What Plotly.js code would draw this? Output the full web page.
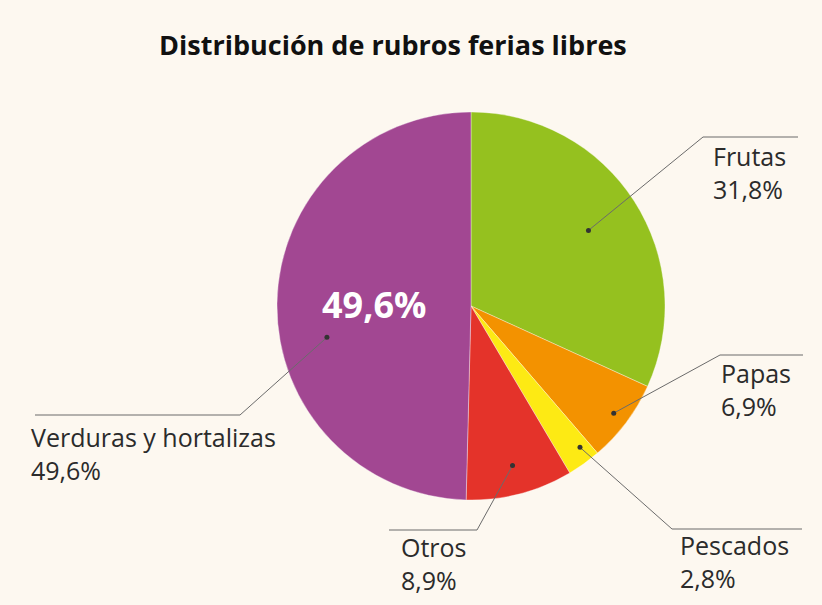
<!DOCTYPE html>
<html>
<head>
<meta charset="utf-8">
<script src="https://cdn.plot.ly/plotly-3.0.1.min.js"></script>
<style>html,body{margin:0;padding:0;background:#fdf8f0;}</style>
</head>
<body>
<div id="chart" style="width:822px;height:605px;"></div>
<script>
// Data
const categories = ['Frutas', 'Papas', 'Pescados', 'Otros', 'Verduras y hortalizas'];
const values = [31.8, 6.9, 2.8, 8.9, 49.6];
const colors = ['#95c11f', '#f39200', '#fdea14', '#e4332a', '#a24792'];

// Layout helpers (pixel geometry of the pie)
const W = 822, H = 605;
const CX = 471, CY = 306, R = 194;
// Leader layout per category: dot radius fraction, angle offset (deg), elbow point, line end, label top-left
const leader = [
  {rf: 0.72, da: 0,   elbow: [703, 137], end: [798, 137], label: [711, 137]},
  {rf: 0.92, da: 0,   elbow: [720, 355], end: [803, 355], label: [719, 354]},
  {rf: 0.92, da: -2,  elbow: [672, 529], end: [802, 529], label: [678, 526]},
  {rf: 0.85, da: 0,   elbow: [477, 530], end: [389, 530], label: [399, 528]},
  {rf: 0.76, da: -13, elbow: [240, 415], end: [35, 415],  label: [29, 418]}
];

const px = x => x / W;
const py = y => 1 - y / H;
const fmt = v => v.toFixed(1).replace('.', ',') + '%';

const total = values.reduce((a, b) => a + b, 0);
let cum = 0;
const shapes = [];
const annotations = [];
values.forEach((v, i) => {
  const mid = (cum + v / 2) / total * 360;
  cum += v;
  const L = leader[i];
  const ang = (mid + L.da) * Math.PI / 180;
  const dx = CX + Math.sin(ang) * R * L.rf;
  const dy = CY - Math.cos(ang) * R * L.rf;
  shapes.push({type: 'line', xref: 'paper', yref: 'paper',
    x0: px(dx), y0: py(dy), x1: px(L.elbow[0]), y1: py(L.elbow[1]),
    line: {color: '#6b6b6b', width: 1}});
  shapes.push({type: 'line', xref: 'paper', yref: 'paper',
    x0: px(L.elbow[0]), y0: py(L.elbow[1]), x1: px(L.end[0]), y1: py(L.end[1]),
    line: {color: '#6b6b6b', width: 1}});
  shapes.push({type: 'circle', xref: 'paper', yref: 'paper',
    x0: px(dx - 2.5), x1: px(dx + 2.5), y0: py(dy - 2.5), y1: py(dy + 2.5),
    fillcolor: '#333333', line: {width: 0}});
  annotations.push({xref: 'paper', yref: 'paper', x: px(L.label[0]), y: py(L.label[1]),
    xanchor: 'left', yanchor: 'top', align: 'left', showarrow: false,
    text: categories[i] + '<br>' + fmt(v),
    font: {family: 'Open Sans, sans-serif', size: 25, color: '#2b2b2b'}});
  if (i === 4) {
    const ia = mid * Math.PI / 180;
    annotations.push({xref: 'paper', yref: 'paper',
      x: px(CX + Math.sin(ia) * R * 0.5), y: py(CY - Math.cos(ia) * R * 0.5),
      xanchor: 'center', yanchor: 'middle', showarrow: false,
      text: '<b>' + fmt(v) + '</b>',
      font: {family: 'Open Sans, sans-serif', size: 36, color: '#ffffff'}});
  }
});

const trace = {
  type: 'pie',
  labels: categories,
  values: values,
  sort: false,
  direction: 'clockwise',
  rotation: 0,
  marker: {colors: colors, line: {color: 'rgba(255,255,255,0.35)', width: 1}},
  textinfo: 'none',
  hoverinfo: 'label+percent',
  domain: {x: [(CX - R) / W, (CX + R) / W], y: [1 - (CY + R) / H, 1 - (CY - R) / H]}
};

const layout = {
  width: W, height: H,
  margin: {l: 0, r: 0, t: 0, b: 0},
  paper_bgcolor: '#fdf8f0',
  plot_bgcolor: '#fdf8f0',
  showlegend: false,
  title: {text: '<b>Distribución de rubros ferias libres</b>', x: 0.478, xanchor: 'center',
    y: py(46), yanchor: 'middle',
    font: {family: 'Open Sans, sans-serif', size: 27, color: '#111111'}},
  shapes: shapes,
  annotations: annotations
};

Plotly.newPlot('chart', [trace], layout, {displayModeBar: false, staticPlot: true});
</script>
</body>
</html>
